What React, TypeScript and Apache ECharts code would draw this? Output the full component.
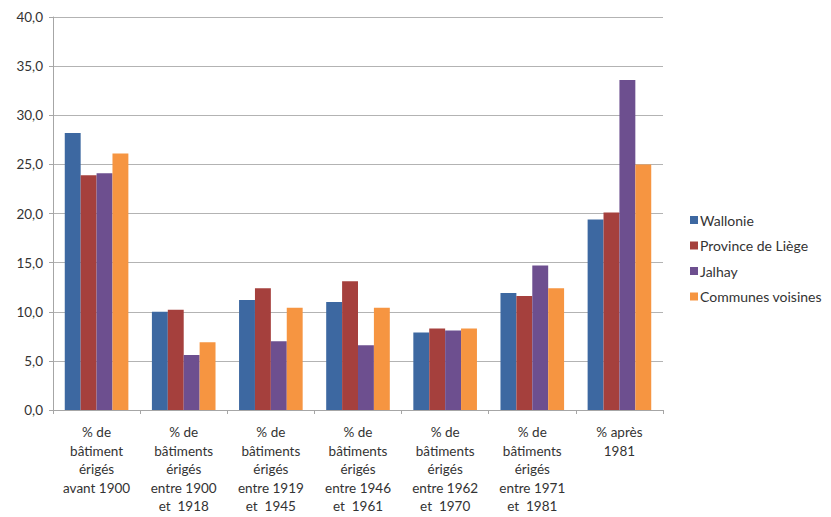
import React, { useEffect, useRef } from "react";
import * as echarts from "echarts";

const categories = [
  "% de\nbâtiment\nérigés\navant 1900",
  "% de\nbâtiments\nérigés\nentre 1900\net  1918",
  "% de\nbâtiments\nérigés\nentre 1919\net  1945",
  "% de\nbâtiments\nérigés\nentre 1946\net  1961",
  "% de\nbâtiments\nérigés\nentre 1962\net  1970",
  "% de\nbâtiments\nérigés\nentre 1971\net  1981",
  "% après\n1981",
];
const seriesNames = ["Wallonie", "Province de Liège", "Jalhay", "Communes voisines"];
const wallonie = [28.2, 10.0, 11.2, 11.0, 7.9, 11.9, 19.4];
const provinceLiege = [23.9, 10.2, 12.4, 13.1, 8.3, 11.6, 20.1];
const jalhay = [24.1, 5.6, 7.0, 6.6, 8.1, 14.7, 33.6];
const communesVoisines = [26.1, 6.9, 10.4, 10.4, 8.3, 12.4, 25.0];
const colors = ["#3d68a1", "#a5403d", "#6d4f8f", "#f69541"];

export default function App() {
  const ref = useRef<HTMLDivElement>(null);
  useEffect(() => {
    if (!ref.current) return;
    const chart = echarts.init(ref.current, undefined, { renderer: "svg" });
    const font = "Lato, 'Liberation Sans', sans-serif";
    const data = [wallonie, provinceLiege, jalhay, communesVoisines];
    chart.setOption({
      animation: false,
      textStyle: { fontFamily: font },
      grid: { left: 45, right: 160, top: 9, bottom: 107, outerBoundsMode: "none", containLabel: false },
      legend: {
        orient: "vertical",
        left: 677,
        top: 200,
        itemWidth: 8,
        itemHeight: 8,
        itemGap: 11.5,
        icon: "rect",
        textStyle: { fontSize: 14, color: "#333", fontFamily: font, padding: [0, 0, 0, -3] },
        data: seriesNames,
      },
      xAxis: {
        type: "category",
        data: categories,
        axisLine: { lineStyle: { color: "#a6a6a6" } },
        axisTick: { show: true, length: 4, lineStyle: { color: "#a6a6a6" } },
        axisLabel: {
          interval: 0,
          color: "#333",
          fontSize: 13.5,
          lineHeight: 18.5,
          margin: 13,
          fontFamily: font,
        },
      },
      yAxis: {
        type: "value",
        min: 0,
        max: 40,
        interval: 5,
        axisLine: { show: true, lineStyle: { color: "#a6a6a6" } },
        axisTick: { show: true, length: 4, lineStyle: { color: "#a6a6a6" } },
        splitLine: { lineStyle: { color: "#b3b3b3" } },
        axisLabel: {
          color: "#333",
          fontSize: 13.5,
          margin: 10,
          fontFamily: font,
          formatter: (v: number) => v.toFixed(1).replace(".", ","),
        },
      },
      series: seriesNames.map((name, i) => ({
        name,
        type: "bar",
        data: data[i],
        barGap: "0%",
        barCategoryGap: "27%",
        itemStyle: { color: colors[i] },
      })),
    });
    return () => chart.dispose();
  }, []);
  return <div ref={ref} style={{ width: 815, height: 509 }} />;
}
